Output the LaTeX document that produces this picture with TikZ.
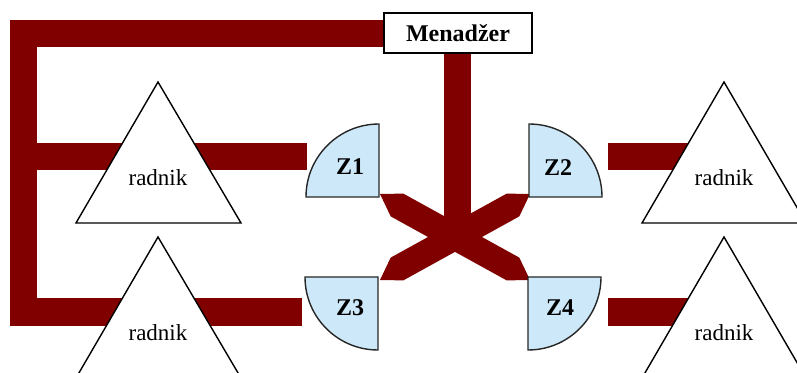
\documentclass[tikz,border=0pt]{standalone}
\usepackage{fontspec}
\setmainfont{Liberation Serif}
\begin{document}
\begin{tikzpicture}[x=1pt,y=1pt,
  bar/.style={draw=barred,line width=27pt,line cap=butt,line join=miter},
  xarm/.style={fill=barred},
  tri/.style={draw=black,fill=white,line width=1.4pt,line join=miter},
  quarter/.style={draw=black!85,fill=zblue,line width=1.4pt},
  ztext/.style={font=\fontsize{24}{28}\selectfont\bfseries},
  rtext/.style={font=\fontsize{23}{27}\selectfont},
  mbox/.style={draw=black,fill=white,line width=2pt,minimum width=148pt,minimum height=40pt,inner sep=0pt,font=\fontsize{24}{28}\selectfont\bfseries}]
\definecolor{barred}{RGB}{128,0,0}
\definecolor{zblue}{RGB}{205,233,249}
\useasboundingbox (0,0) rectangle (797,372);
\clip (0,0) rectangle (797,372);
% named points
\coordinate (mgrL) at (384,338);
\coordinate (cTL) at (23.5,338);
\coordinate (cBL) at (23.5,60);
\coordinate (cML) at (23.5,215);
\coordinate (z1in) at (307,215);
\coordinate (z3in) at (302,60);
\coordinate (mgrB) at (457.5,319);
\coordinate (xc) at (457.5,135);
\coordinate (z2out) at (608,215);
\coordinate (z4out) at (608,60);
\coordinate (r2in) at (724,215);
\coordinate (r4in) at (724,60);
% bars
\draw[bar] (mgrL) -- (cTL) -- (cBL) -- (z3in);
\draw[bar] (cML) -- (z1in);
\draw[bar] (mgrB) -- (xc);
\draw[bar] (z2out) -- (r2in);
\draw[bar] (z4out) -- (r4in);
% cross
\fill[xarm] (380,178) -- (403.3,178.4) -- (519.3,114.4) -- (530,92) -- (506.7,91.6) -- (390.7,155.6) -- cycle;
\fill[xarm] (530,178) -- (506.7,178.4) -- (390.7,114.4) -- (380,92) -- (403.3,91.6) -- (519.3,155.6) -- cycle;
% triangles
\draw[tri] (158,290) -- (241,149) -- (76,149) -- cycle;
\draw[tri] (158,135) -- (241,-6) -- (76,-6) -- cycle;
\draw[tri] (724,290) -- (806,149) -- (642,149) -- cycle;
\draw[tri] (724,135) -- (806,-6) -- (642,-6) -- cycle;
\node[rtext] (r1) at (158,194) {radnik};
\node[rtext] (r3) at (158,39) {radnik};
\node[rtext] (r2) at (724,194) {radnik};
\node[rtext] (r4) at (724,39) {radnik};
% quarter circles
\draw[quarter] (379,175) -- (306,175) arc[start angle=180,end angle=90,radius=73] -- cycle;
\draw[quarter] (529,175) -- (529,248) arc[start angle=90,end angle=0,radius=73] -- cycle;
\draw[quarter] (378,95) -- (305,95) arc[start angle=180,end angle=270,radius=73] -- cycle;
\draw[quarter] (528,95) -- (528,22) arc[start angle=270,end angle=360,radius=73] -- cycle;
\node[ztext] (z1) at (350,205) {Z1};
\node[ztext] (z2) at (558,204) {Z2};
\node[ztext] (z3) at (350,64) {Z3};
\node[ztext] (z4) at (560,64) {Z4};
% manager
\node[mbox] (mgr) at (458,339) {Menadžer};
\end{tikzpicture}
\end{document}
